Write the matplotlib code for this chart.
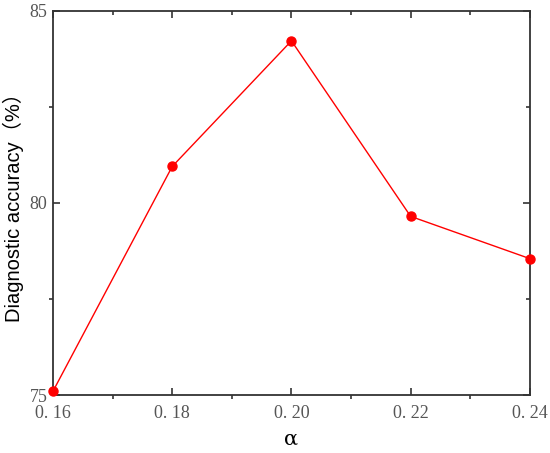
import matplotlib.pyplot as plt

# Data
alpha = [0.16, 0.18, 0.20, 0.22, 0.24]
accuracy = [75.1, 80.95, 84.22, 79.65, 78.55]
xtick_vals = [0.16, 0.18, 0.20, 0.22, 0.24]
xtick_labels = ["0. 16", "0. 18", "0. 20", "0. 22", "0. 24"]
ytick_vals = [75, 80, 85]


def main(output_file: str):
    fig = plt.figure(figsize=(5.5, 4.53), dpi=100)
    ax = fig.add_axes([0.0964, 0.128, 0.867, 0.848])

    ax.plot(alpha, accuracy, color="red", linewidth=1.0,
            marker="o", markersize=6.5, clip_on=False, zorder=3)

    ax.set_xlim(0.16, 0.24)
    ax.set_ylim(75, 85)

    spine_color = "#333333"
    for s in ax.spines.values():
        s.set_color(spine_color)
        s.set_linewidth(1.3)

    tick_font = {"family": "Liberation Serif", "size": 13, "color": "#555555"}
    ax.set_xticks(xtick_vals)
    ax.set_xticklabels(xtick_labels, fontdict=tick_font)
    ax.set_xticks([0.17, 0.19, 0.21, 0.23], minor=True)
    ax.set_yticks(ytick_vals)
    ax.set_yticklabels([str(v) for v in ytick_vals], fontdict=tick_font)
    ax.set_yticks([77.5, 82.5], minor=True)

    # bottom/left: major ticks in, minor ticks out
    ax.tick_params(which="major", direction="in", length=5, width=1.2,
                   color=spine_color, pad=4)
    ax.tick_params(axis="x", which="major", pad=7)
    ax.tick_params(which="minor", direction="out", length=3, width=1.2,
                   color=spine_color)

    # top/right mirrored ticks, all pointing in
    top = ax.secondary_xaxis("top")
    top.set_xticks(xtick_vals)
    top.set_xticks([0.17, 0.19, 0.21, 0.23], minor=True)
    top.tick_params(which="both", direction="in", labeltop=False,
                    color=spine_color, width=1.2)
    top.tick_params(which="major", length=5)
    top.tick_params(which="minor", length=3)
    top.spines["top"].set_visible(False)

    right = ax.secondary_yaxis("right")
    right.set_yticks(ytick_vals)
    right.set_yticks([77.5, 82.5], minor=True)
    right.tick_params(which="both", direction="in", labelright=False,
                      color=spine_color, width=1.2)
    right.tick_params(which="major", length=5)
    right.tick_params(which="minor", length=3)
    right.spines["right"].set_visible(False)

    ax.set_xlabel("α", fontsize=15, family="DejaVu Serif", labelpad=6)
    ax.set_ylabel("Diagnostic accuracy（%）", fontsize=14.5,
                  family=["Liberation Sans", "Noto Sans CJK SC"], labelpad=4)

    plt.savefig(output_file, dpi=100)


if __name__ == "__main__":
    main("out.png")
